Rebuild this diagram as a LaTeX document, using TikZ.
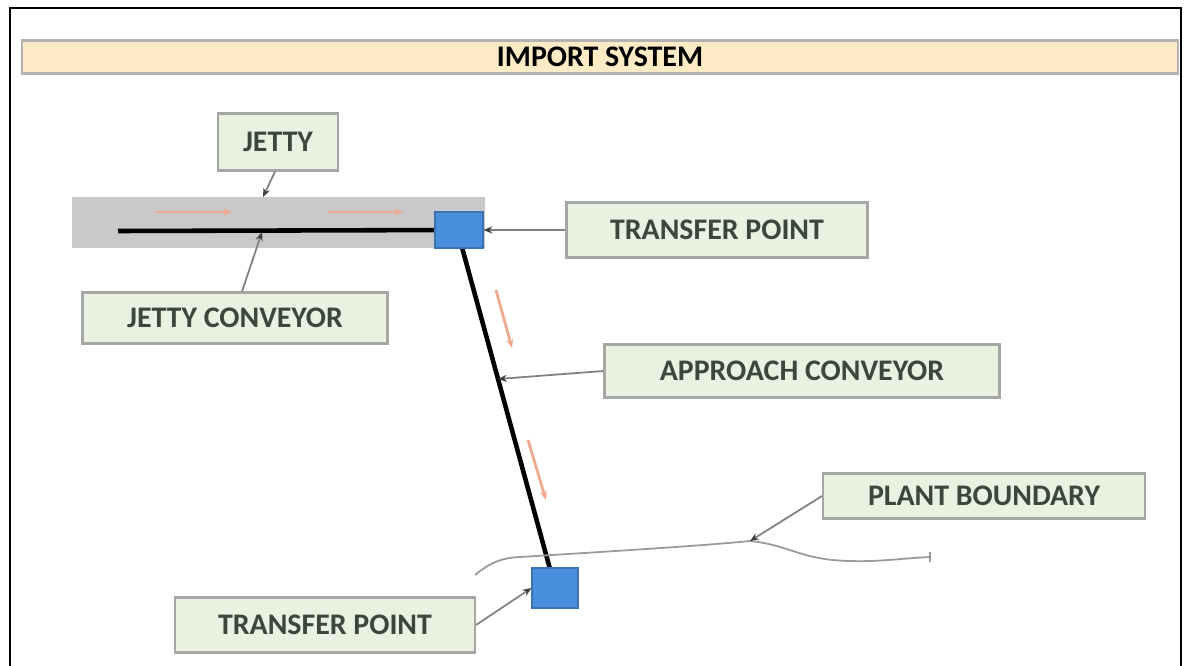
\documentclass[tikz,border=0pt]{standalone}
\usepackage{fontspec}
\setmainfont{Carlito}
\usetikzlibrary{arrows.meta}
\definecolor{banner}{HTML}{FCEBC4}
\definecolor{labelfill}{HTML}{E9F2E1}
\definecolor{labeltext}{HTML}{3B473B}
\definecolor{tpblue}{HTML}{4A8FDB}
\definecolor{flow}{HTML}{EFA98E}
\definecolor{jettygray}{HTML}{C9C9CB}

\begin{document}
\begin{tikzpicture}[x=0.02cm,y=-0.02cm,
  tag/.style={draw=gray!70,line width=1.2pt,fill=labelfill,text=labeltext,
    font=\fontsize{17}{19}\selectfont\bfseries,inner sep=0pt},
  lead/.style={draw=gray,line width=1pt,-{Stealth[length=5pt,width=4pt,black!75]}},
  tp/.style={fill=tpblue,draw=tpblue!80!black,line width=0.6pt,inner sep=0pt},
  flowarrow/.style={flow,line width=1.6pt,-{Stealth[length=5pt,width=4pt]}}]
\useasboundingbox (0,0) rectangle (1187,666);
\fill[white] (0,0) rectangle (1187,666);
\draw[line width=1.2pt] (10,670) -- (10,8) -- (1181,8) -- (1181,670); % frame
\node[draw=gray!60,line width=1.5pt,fill=banner,minimum width=23.12cm,minimum height=0.66cm,
  font=\fontsize{17}{19}\selectfont\bfseries] (title) at (600,57) {IMPORT SYSTEM};
\fill[jettygray] (72,197) rectangle (485,248); % jetty
\coordinate (jstart) at (118,231);
\coordinate (tptopc) at (459,230);
\coordinate (tpbotc) at (555,588);
\draw[line width=2.6pt] (jstart) -- (tptopc); % jetty conveyor
\draw[line width=2.6pt] (460,240) -- (553,580); % approach conveyor
\node[tp,minimum width=0.96cm,minimum height=0.72cm] (tptop) at (tptopc) {};
\node[tp,minimum width=0.92cm,minimum height=0.8cm] (tpbot) at (tpbotc) {};
\draw[flowarrow] (155,212) -- (232,212);
\draw[flowarrow] (328,212) -- (403,212);
\draw[flowarrow] (496,290) -- (512,348);
\draw[flowarrow] (528,440) -- (546,500);
% plant boundary
\draw[gray!80,line width=1pt] (475,575) .. controls (490,563) and (500,558) .. (520,557)
  .. controls (600,552) and (700,546) .. (750,541)
  .. controls (790,545) and (800,560) .. (850,561)
  .. controls (880,562) and (905,558) .. (930,557);
\draw[gray!80,line width=1pt] (930,552) -- (930,562);
% labels
\node[tag,minimum width=2.4cm,minimum height=1.14cm] (jetty) at (278,142) {JETTY};
\node[tag,minimum width=6.1cm,minimum height=1.02cm] (jconv) at (235,318) {JETTY CONVEYOR};
\node[tag,minimum width=6.02cm,minimum height=1.1cm] (tplabtop) at (717,230) {TRANSFER POINT};
\node[tag,minimum width=7.9cm,minimum height=1.06cm] (aconv) at (802,371) {APPROACH CONVEYOR};
\node[tag,minimum width=6.44cm,minimum height=0.9cm] (plant) at (984,496) {PLANT BOUNDARY};
\node[tag,minimum width=6.0cm,minimum height=1.1cm] (tplabbot) at (325,625) {TRANSFER POINT};
% leaders
\coordinate (jettyend) at (263,197);
\coordinate (jconvend) at (262,232);
\coordinate (aconvend) at (498,379);
\coordinate (plantend) at (750,541);
\draw[lead] (jetty.south) ++(-3,0) -- (jettyend);
\draw[lead] (jconv.north) ++(7,0) -- (jconvend);
\draw[lead] (tplabtop.west) -- (tptop.east);
\draw[lead] (aconv.west) -- (aconvend);
\draw[lead] (plant.west) -- (plantend);
\draw[lead] (tplabbot.east) -- (tpbot.west);
\end{tikzpicture}
\end{document}
